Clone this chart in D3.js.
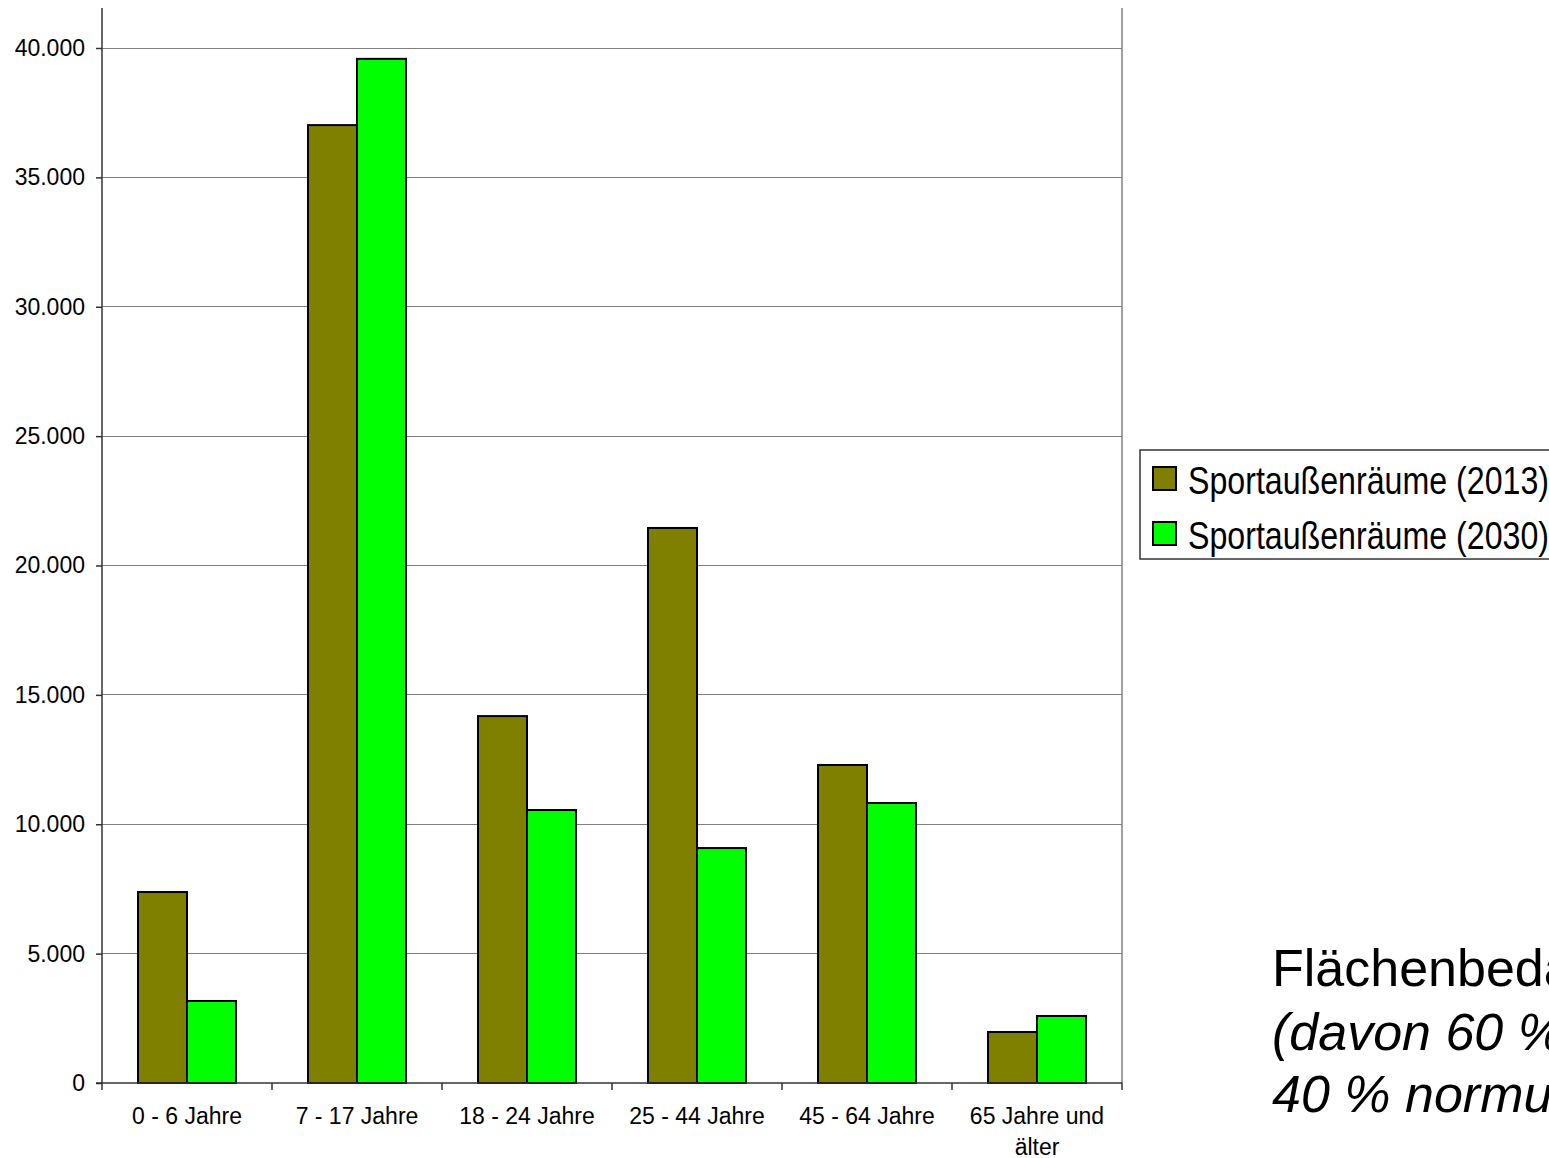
<!DOCTYPE html>
<html>
<head>
<meta charset="utf-8">
<script src="https://cdn.jsdelivr.net/npm/d3@7"></script>
<style>
  body { margin: 0; background: #fff; overflow: hidden; }
  svg { display: block; font-family: Arial, "Liberation Sans", sans-serif; }
</style>
</head>
<body>
<svg id="chart" width="1549" height="1158"></svg>
<script>
const categories = ['0 - 6 Jahre', '7 - 17 Jahre', '18 - 24 Jahre', '25 - 44 Jahre', '45 - 64 Jahre', '65 Jahre und älter'];
const seriesNames = ['Sportaußenräume (2013)', 'Sportaußenräume (2030)'];
const values2013 = [7380, 37020, 14180, 21450, 12290, 1970];
const values2030 = [3170, 39580, 10550, 9080, 10820, 2590];
const yTicks = [0, 5000, 10000, 15000, 20000, 25000, 30000, 35000, 40000];
const colors = ['#808000', '#00ff00'];

const svg = d3.select('#chart');
const left = 102, right = 1122, zeroY = 1083, topY = 48, axisTop = 8;

const x = d3.scaleBand().domain(categories).range([left, right]).paddingInner(0).paddingOuter(0);
const inner = d3.scaleBand().domain(seriesNames).range([36, x.bandwidth() - 36]);
const y = d3.scaleLinear().domain([0, 40000]).range([zeroY, topY]);

const fmt = d => d3.format(',')(d).replace(/,/g, '.');

// gridlines
svg.append('g')
  .selectAll('line')
  .data(yTicks.filter(d => d > 0))
  .join('line')
  .attr('x1', left).attr('x2', right)
  .attr('y1', d => y(d)).attr('y2', d => y(d))
  .attr('stroke', '#808080').attr('stroke-width', 1).attr('shape-rendering', 'crispEdges');

// right plot border
svg.append('line')
  .attr('x1', right).attr('x2', right).attr('y1', axisTop).attr('y2', zeroY)
  .attr('stroke', '#808080').attr('stroke-width', 1.5);

// bars
const rows = categories.map((c, i) => ({ c, vals: [values2013[i], values2030[i]] }));
svg.append('g')
  .selectAll('g')
  .data(rows)
  .join('g')
  .attr('transform', d => `translate(${x(d.c)},0)`)
  .selectAll('rect')
  .data(d => d.vals.map((v, j) => ({ v, s: seriesNames[j], j })))
  .join('rect')
  .attr('x', d => inner(d.s))
  .attr('width', inner.bandwidth())
  .attr('y', d => y(d.v))
  .attr('height', d => zeroY - y(d.v))
  .attr('fill', d => colors[d.j])
  .attr('stroke', '#000')
  .attr('stroke-width', 2);

// y axis
const yAxis = svg.append('g')
  .attr('transform', `translate(${left},0)`)
  .call(d3.axisLeft(y).tickValues(yTicks).tickFormat(fmt).tickSize(6).tickPadding(11));
yAxis.select('.domain').remove();
yAxis.selectAll('.tick line').attr('stroke', '#333').attr('stroke-width', 1.5);
yAxis.selectAll('text').attr('font-size', 23).attr('fill', '#000').attr('font-family', 'Arial, "Liberation Sans", sans-serif');
svg.append('line')
  .attr('x1', left).attr('x2', left).attr('y1', axisTop).attr('y2', zeroY)
  .attr('stroke', '#333').attr('stroke-width', 1.5);

// x axis
const xTicks = categories.map(c => x(c)).concat([right]);
svg.append('line')
  .attr('x1', left - 6).attr('x2', right).attr('y1', zeroY).attr('y2', zeroY)
  .attr('stroke', '#333').attr('stroke-width', 1.5);
svg.append('g')
  .selectAll('line')
  .data(xTicks)
  .join('line')
  .attr('x1', d => d).attr('x2', d => d)
  .attr('y1', zeroY).attr('y2', zeroY + 7)
  .attr('stroke', '#333').attr('stroke-width', 1.5);

const xLabels = svg.append('g')
  .selectAll('text')
  .data(categories)
  .join('text')
  .attr('x', d => x(d) + x.bandwidth() / 2)
  .attr('y', 1124)
  .attr('text-anchor', 'middle')
  .attr('font-size', 23)
  .attr('fill', '#000');
xLabels.each(function(d) {
  const t = d3.select(this);
  if (d === '65 Jahre und älter') {
    t.append('tspan').attr('x', x(d) + x.bandwidth() / 2).text('65 Jahre und');
    t.append('tspan').attr('x', x(d) + x.bandwidth() / 2).attr('dy', 31).text('älter');
  } else {
    t.text(d);
  }
});

// legend
const legend = svg.append('g').attr('transform', 'translate(1140,450)');
legend.append('rect')
  .attr('x', 0).attr('y', 0).attr('width', 420).attr('height', 109)
  .attr('fill', '#fff').attr('stroke', '#333').attr('stroke-width', 1.5);
seriesNames.forEach((s, i) => {
  const g = legend.append('g').attr('transform', `translate(13,${17 + i * 55})`);
  g.append('rect').attr('width', 23).attr('height', 23)
    .attr('fill', colors[i]).attr('stroke', '#000').attr('stroke-width', 2);
  g.append('text')
    .attr('x', 35).attr('y', 27)
    .attr('font-size', 39)
    .attr('textLength', 361)
    .attr('lengthAdjust', 'spacingAndGlyphs')
    .attr('fill', '#000')
    .text(s);
});

// annotation
const note = svg.append('text')
  .attr('x', 1272).attr('font-size', 52).attr('fill', '#000');
note.append('tspan').attr('x', 1272).attr('y', 986).text('Flächenbedarf');
note.append('tspan').attr('x', 1272).attr('y', 1050).attr('font-style', 'italic').text('(davon 60 % normgebunden,');
note.append('tspan').attr('x', 1272).attr('y', 1112).attr('font-style', 'italic').text('40 % normungebunden)');
</script>
</body>
</html>
